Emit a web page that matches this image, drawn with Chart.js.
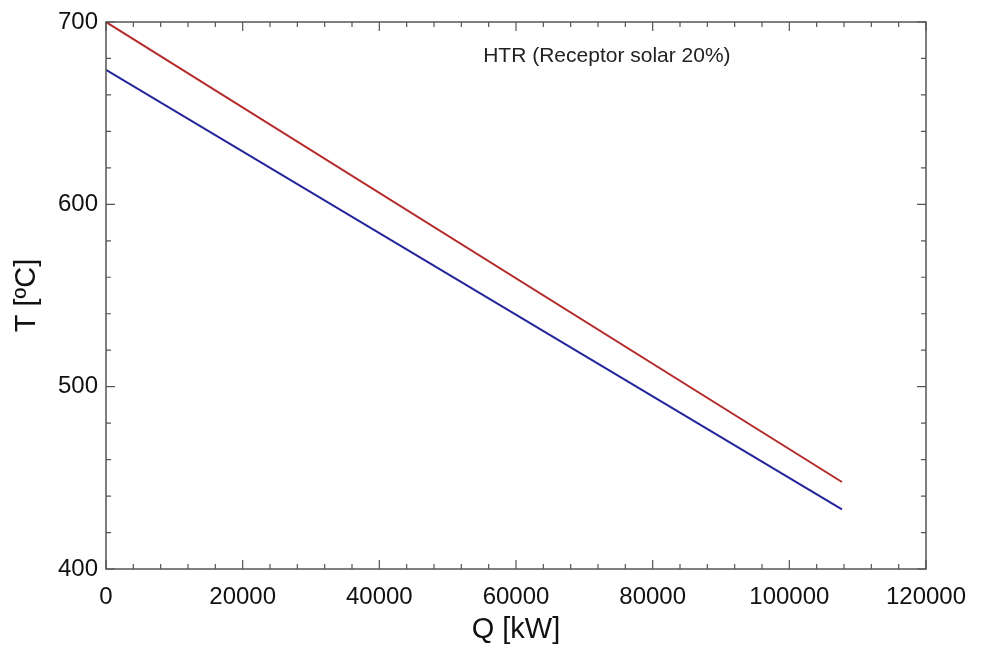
<!DOCTYPE html>
<html>
<head>
<meta charset="utf-8">
<script src="https://cdn.jsdelivr.net/npm/chart.js@4.4.0/dist/chart.umd.min.js"></script>
<style>
  html, body { margin: 0; padding: 0; background: #fff; }
  #wrap { width: 983px; height: 651px; }
</style>
</head>
<body>
<div id="wrap"><canvas id="htrChart"></canvas></div>
<script>
// Q [kW] at the two ends of each line
const qValues = [0, 107700];
// hot side (red) and cold side (blue), T [ºC]
const tHot = [700, 447.7];
const tCold = [673.7, 432.7];

const xTicks = [0, 20000, 40000, 60000, 80000, 100000, 120000];
const yTicks = [400, 500, 600, 700];
const noteText = 'HTR (Receptor solar 20%)';

const FONT = "'Liberation Sans', Arial, sans-serif";

const toPoints = (xs, ys) => xs.map((x, i) => ({ x: x, y: ys[i] }));

// draws the box round the plot, the inward tick marks (major + minor) and the note
const frameTicks = {
    id: 'frameTicks',
    afterDraw(chart) {
        const { ctx, chartArea: a, scales: { x, y } } = chart;
        ctx.save();
        ctx.strokeStyle = '#555';
        ctx.lineWidth = 1.5;
        ctx.strokeRect(a.left, a.top, a.right - a.left, a.bottom - a.top);

        ctx.lineWidth = 1.2;
        ctx.beginPath();
        const xStep = (xTicks[1] - xTicks[0]) / 5;
        for (let v = xTicks[0]; v <= xTicks[xTicks.length - 1]; v += xStep) {
            const px = x.getPixelForValue(v);
            const len = Math.round((v - xTicks[0]) / xStep) % 5 === 0 ? 9 : 5;
            ctx.moveTo(px, a.bottom); ctx.lineTo(px, a.bottom - len);
            ctx.moveTo(px, a.top); ctx.lineTo(px, a.top + len);
        }
        const yStep = (yTicks[1] - yTicks[0]) / 5;
        for (let v = yTicks[0]; v <= yTicks[yTicks.length - 1] + 0.001; v += yStep) {
            const py = y.getPixelForValue(v);
            const len = Math.round((v - yTicks[0]) / yStep) % 5 === 0 ? 9 : 5;
            ctx.moveTo(a.left, py); ctx.lineTo(a.left + len, py);
            ctx.moveTo(a.right, py); ctx.lineTo(a.right - len, py);
        }
        ctx.stroke();

        ctx.fillStyle = '#222';
        ctx.font = '21px ' + FONT;
        ctx.textAlign = 'left';
        ctx.textBaseline = 'middle';
        ctx.fillText(noteText, x.getPixelForValue(55200), y.getPixelForValue(681));
        ctx.restore();
    }
};

new Chart(document.getElementById('htrChart'), {
    type: 'scatter',
    data: {
        datasets: [
            { label: 'Hot', data: toPoints(qValues, tHot), showLine: true, borderColor: '#b52a2a', borderWidth: 2, pointRadius: 0, fill: false },
            { label: 'Cold', data: toPoints(qValues, tCold), showLine: true, borderColor: '#23239b', borderWidth: 2, pointRadius: 0, fill: false }
        ]
    },
    options: {
        responsive: true,
        maintainAspectRatio: false,
        animation: false,
        layout: { padding: { top: 22, right: 57, left: 0, bottom: 0 } },
        plugins: { legend: { display: false }, tooltip: { enabled: false } },
        scales: {
            x: {
                type: 'linear',
                min: xTicks[0],
                max: xTicks[xTicks.length - 1],
                afterBuildTicks: (s) => { s.ticks = xTicks.map(v => ({ value: v })); },
                afterFit: (s) => { s.height = 82; },
                grid: { display: false },
                border: { display: false },
                ticks: { color: '#111', font: { family: FONT, size: 24 }, padding: 6, maxRotation: 0, callback: (v) => String(v) },
                title: { display: true, text: 'Q [kW]', color: '#111', font: { family: FONT, size: 29 }, padding: { top: 2 } }
            },
            y: {
                type: 'linear',
                min: yTicks[0],
                max: yTicks[yTicks.length - 1],
                afterBuildTicks: (s) => { s.ticks = yTicks.map(v => ({ value: v })); },
                afterFit: (s) => { s.width = 106; },
                grid: { display: false },
                border: { display: false },
                ticks: { color: '#111', font: { family: FONT, size: 24 }, padding: 0, callback: (v) => String(v) },
                title: { display: true, text: 'T [ºC]', color: '#111', font: { family: FONT, size: 29 }, padding: { top: 10 } }
            }
        }
    },
    plugins: [frameTicks]
});
</script>
</body>
</html>
